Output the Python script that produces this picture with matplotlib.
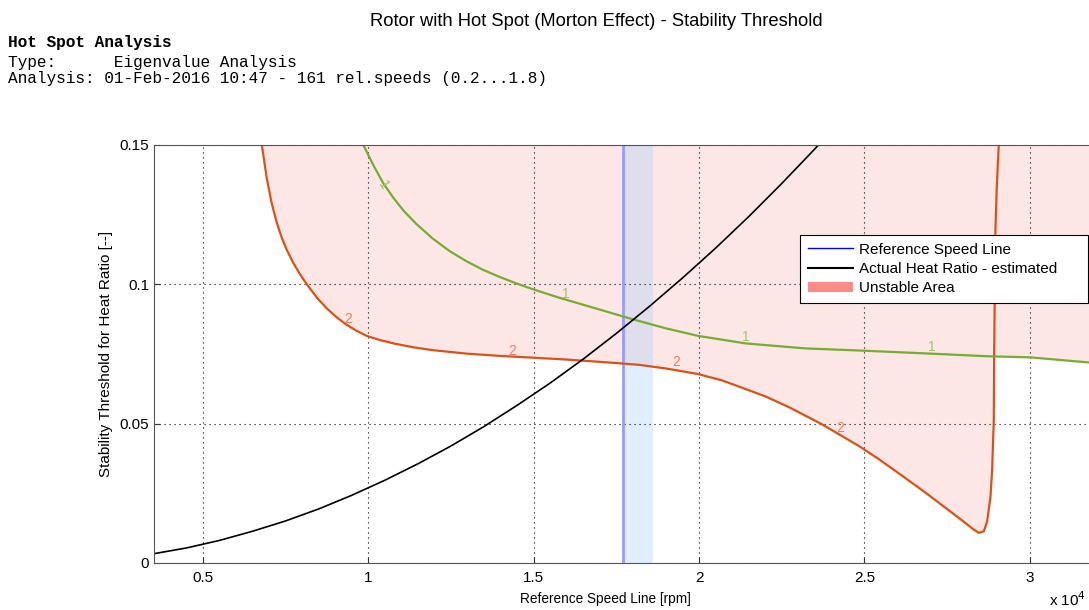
import numpy as np
import matplotlib
matplotlib.use('Agg')
import matplotlib.pyplot as plt
from matplotlib.lines import Line2D
from matplotlib.patches import Patch
from matplotlib.ticker import FuncFormatter

plt.rcParams['font.family'] = ['Liberation Sans', 'DejaVu Sans']

# mode 2 threshold (orange)
speed_m2 = [6780, 6930, 7080, 7230, 7380, 7530, 7730, 7940, 8140, 8440, 8740, 9040,
            9340, 9650, 9950, 10350, 10760, 11360, 11930, 13000, 14000, 14950, 16000,
            16980, 17670, 18190, 19000, 19970, 20700, 21210, 22020, 22720, 23680,
            24830, 25440, 26140, 26850, 27450, 27960, 28300, 28460, 28610, 28710,
            28810, 28860, 28890, 28910, 28920, 28960, 29000, 29060]
thr_m2 = [0.150, 0.1380, 0.1290, 0.1222, 0.1168, 0.1125, 0.1077, 0.1035, 0.1000,
          0.0953, 0.0914, 0.0882, 0.0855, 0.0833, 0.0815, 0.0800, 0.0788, 0.0774,
          0.0764, 0.0751, 0.0743, 0.0737, 0.0730, 0.0722, 0.0716, 0.0711, 0.0698,
          0.0678, 0.0655, 0.0633, 0.0597, 0.0559, 0.0500, 0.0420, 0.0372, 0.0313,
          0.0252, 0.0198, 0.0152, 0.0120, 0.0108, 0.0114, 0.0150, 0.0238, 0.0334,
          0.0441, 0.0513, 0.0740, 0.1195, 0.1350, 0.150]

# mode 1 threshold (green)
speed_m1 = [9850, 10150, 10450, 10760, 11060, 11440, 11940, 12450, 12950, 13450,
            13960, 14460, 14960, 15770, 16980, 17980, 19000, 19970, 21410, 23220,
            24950, 27250, 28700, 30000, 31750, 32000]
thr_m1 = [0.150, 0.1428, 0.1363, 0.1310, 0.1265, 0.1218, 0.1165, 0.1120, 0.1084,
          0.1053, 0.1027, 0.1004, 0.0983, 0.0952, 0.0910, 0.0875, 0.0842, 0.0815,
          0.0788, 0.0770, 0.0762, 0.0750, 0.0742, 0.0738, 0.0720, 0.0718]

# actual heat ratio (black)
speed_hr = [3500, 4500, 5500, 6500, 7500, 8500, 9500, 10500, 11500, 12500, 13500,
            14500, 15500, 16500, 17500, 18500, 19500, 20500, 21500, 22500, 23500, 24500]
heat_ratio = [0.0033, 0.0054, 0.0081, 0.0114, 0.0151, 0.0194, 0.0243, 0.0297, 0.0356,
              0.0420, 0.0490, 0.0566, 0.0646, 0.0732, 0.0824, 0.0921, 0.1023, 0.1130,
              0.1243, 0.1362, 0.1486, 0.1615]

ref_speed = 17700
ref_band = (17700, 18600)

labels_m1 = [(10450, 0.1357, -58), (15980, 0.0965, 0), (21420, 0.0810, 0), (27040, 0.0774, 0)]
labels_m2 = [(9390, 0.0875, 0), (14340, 0.0760, 0), (19310, 0.0720, 0), (24270, 0.0483, 0)]

orange = '#d95319'
green = '#77ac30'

fig = plt.figure(figsize=(10.89, 6.10), dpi=100)
ax = fig.add_axes([154 / 1089, 47 / 610, 942 / 1089, 418 / 610])

# unstable area: above the lowest threshold curve
xs = np.unique(np.concatenate([speed_m2, speed_m1, np.linspace(6780, 32000, 800)]))
lo2 = np.where((xs >= speed_m2[0]) & (xs <= speed_m2[-1]), np.interp(xs, speed_m2, thr_m2), np.inf)
lo1 = np.where((xs >= speed_m1[0]) & (xs <= speed_m1[-1]), np.interp(xs, speed_m1, thr_m1), np.inf)
lower = np.minimum(lo1, lo2)
ok = np.isfinite(lower)
ax.fill_between(xs, np.where(ok, lower, 0.16), 0.16, where=ok, color='#fde6e6', lw=0, zorder=1)

ax.axvspan(ref_band[0], ref_band[1], color='#99ccff', alpha=0.3, lw=0, zorder=2)
ax.axvline(ref_speed, color='#9999ff', lw=2, zorder=3)

ax.plot(speed_m2, thr_m2, color=orange, lw=1.6, zorder=4)
ax.plot(speed_m1, thr_m1, color=green, lw=1.6, zorder=4)
ax.plot(speed_hr, heat_ratio, color='black', lw=1.2, zorder=5)

for x, y, r in labels_m1:
    ax.text(x, y, '1', color='#9cc46a', fontsize=10, rotation=r, ha='center', va='center', zorder=6)
for x, y, r in labels_m2:
    ax.text(x, y, '2', color='#ef7d5a', fontsize=10, rotation=r, ha='center', va='center', zorder=6)

ax.set_xlim(3520, 32000)
ax.set_ylim(0, 0.15)
ax.set_xticks([5000, 10000, 15000, 20000, 25000, 30000])
ax.set_yticks([0, 0.05, 0.1, 0.15])
ax.xaxis.set_major_formatter(FuncFormatter(lambda v, p: f'{v / 1e4:g}'))
ax.yaxis.set_major_formatter(FuncFormatter(lambda v, p: f'{v:g}'))
ax.tick_params(direction='in', labelsize=11, length=4, color='#333333')
ax.tick_params(axis='x', pad=6)
ax.grid(True, color='black', linestyle=(0, (1, 3.5)), lw=0.8, zorder=2.5)
ax.set_axisbelow(False)
for s in ax.spines.values():
    s.set_color('#555555')
    s.set_zorder(7)

ax.set_ylabel('Stability Threshold for Heat Ratio [--]', fontsize=11)
ax.yaxis.set_label_coords(-0.044, 0.5)
ax.set_xlabel('Reference Speed Line [rpm]', fontsize=9.8)
ax.xaxis.set_label_coords((605 - 154) / 942, -0.07)

fig.text(1049 / 1089, 1 - 606 / 610, r'x 10$^4$', fontsize=11, va='baseline')

handles = [Line2D([], [], color='blue', lw=1),
           Line2D([], [], color='black', lw=1.5),
           Patch(facecolor='#ff8a8a', edgecolor='none')]
leg = ax.legend(handles, ['Reference Speed Line', 'Actual Heat Ratio - estimated', 'Unstable Area'],
                loc='upper left',
                bbox_to_anchor=((800 - 154) / 942, (563 - 305) / 418, 288 / 942, 70 / 418),
                mode='expand', fontsize=11, frameon=True, fancybox=False, framealpha=1,
                edgecolor='black', borderpad=0.5, labelspacing=0.35, handlelength=3.0,
                handletextpad=0.35, borderaxespad=0)
leg.get_frame().set_linewidth(0.8)
leg.set_zorder(8)

fig.text(596 / 1089, 1 - 22 / 610, 'Rotor with Hot Spot (Morton Effect) - Stability Threshold',
         ha='center', va='center', fontsize=13.2)
fig.text(8 / 1089, 1 - 42 / 610, 'Hot Spot Analysis', family='Liberation Mono',
         weight='bold', fontsize=11.6, va='center')
fig.text(8 / 1089, 1 - 62 / 610, 'Type:      Eigenvalue Analysis', family='Liberation Mono',
         fontsize=11.6, va='center')
fig.text(8 / 1089, 1 - 79 / 610, 'Analysis: 01-Feb-2016 10:47 - 161 rel.speeds (0.2...1.8)',
         family='Liberation Mono', fontsize=11.6, va='center')

fig.savefig('out.png', dpi=100)
